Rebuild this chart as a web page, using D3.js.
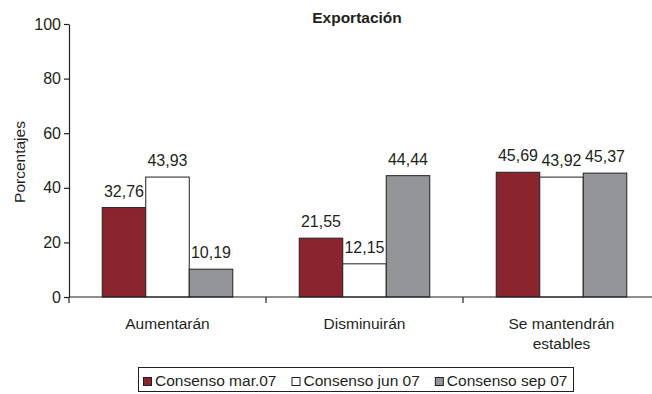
<!DOCTYPE html>
<html>
<head>
<meta charset="utf-8">
<script src="https://cdn.jsdelivr.net/npm/d3@7"></script>
<style>
  html, body { margin: 0; padding: 0; background: #fff; }
  svg { display: block; font-family: "Liberation Sans", Arial, sans-serif; }
</style>
</head>
<body>
<svg id="chart" width="652" height="394"></svg>
<script>
// Data
const categories = [["Aumentarán"], ["Disminuirán"], ["Se mantendrán", "estables"]];
const seriesNames = ["Consenso mar.07", "Consenso jun 07", "Consenso sep 07"];
const marValues = [32.76, 21.55, 45.69];
const junValues = [43.93, 12.15, 43.92];
const sepValues = [10.19, 44.44, 45.37];
const yTicks = [0, 20, 40, 60, 80, 100];
const seriesColors = ["#8a2530", "#ffffff", "#939598"];

const seriesValues = [marValues, junValues, sepValues];
const catKeys = categories.map(c => c.join(" "));
const ink = "#231f20";

const svg = d3.select("#chart");

const x0 = d3.scaleBand().domain(catKeys).range([69, 660]).padding(0);
const x1 = d3.scaleBand().domain(seriesNames).range([0, x0.bandwidth()])
  .paddingInner(0).paddingOuter(0.764);
const y = d3.scaleLinear().domain([0, 100]).range([297, 24]);

// Bars
catKeys.forEach((cat, ci) => {
  const g = svg.append("g").attr("transform", `translate(${x0(cat)},0)`);
  seriesNames.forEach((s, si) => {
    const v = seriesValues[si][ci];
    g.append("rect")
      .attr("x", x1(s))
      .attr("y", y(v))
      .attr("width", x1.bandwidth())
      .attr("height", y(0) - y(v))
      .attr("fill", seriesColors[si])
      .attr("stroke", ink)
      .attr("stroke-width", 1);
    g.append("text")
      .attr("x", x1(s) + x1.bandwidth() / 2)
      .attr("y", y(v) - 11)
      .attr("text-anchor", "middle")
      .attr("font-size", 16)
      .attr("fill", ink)
      .text(d3.format(".2f")(v).replace(".", ","));
  });
});

// Y axis
const yAxis = d3.axisLeft(y).tickValues(yTicks).tickSize(5).tickSizeOuter(0).tickPadding(3);
const yg = svg.append("g").attr("transform", "translate(69,0)").call(yAxis);
yg.selectAll("text").attr("font-size", 16).attr("fill", ink).attr("font-family", "Liberation Sans, Arial, sans-serif");
yg.selectAll("line, path").attr("stroke", ink).attr("stroke-width", 1.2);

// X axis baseline and category dividers
svg.append("line")
  .attr("x1", 69).attr("x2", 660)
  .attr("y1", y(0)).attr("y2", y(0))
  .attr("stroke", ink).attr("stroke-width", 1.2);
catKeys.forEach(cat => {
  svg.append("line")
    .attr("x1", x0(cat)).attr("x2", x0(cat))
    .attr("y1", y(0)).attr("y2", y(0) + 6)
    .attr("stroke", ink).attr("stroke-width", 1.2);
});

// Category labels
categories.forEach((lines, ci) => {
  const cx = x0(catKeys[ci]) + x0.bandwidth() / 2;
  const t = svg.append("text")
    .attr("x", cx)
    .attr("y", 329)
    .attr("text-anchor", "middle")
    .attr("font-size", 15.5)
    .attr("fill", ink);
  lines.forEach((ln, li) => {
    t.append("tspan")
      .attr("x", cx)
      .attr("dy", li === 0 ? 0 : 20)
      .text(ln);
  });
});

// Y axis title
svg.append("text")
  .attr("transform", "translate(25,162) rotate(-90)")
  .attr("text-anchor", "middle")
  .attr("font-size", 15.5)
  .attr("fill", ink)
  .text("Porcentajes");

// Title
svg.append("text")
  .attr("x", 357).attr("y", 23)
  .attr("text-anchor", "middle")
  .attr("font-size", 15.5)
  .attr("font-weight", "bold")
  .attr("fill", ink)
  .text("Exportación");

// Legend
const legend = svg.append("g");
legend.append("rect")
  .attr("x", 138.5).attr("y", 367.5)
  .attr("width", 435).attr("height", 24)
  .attr("fill", "#fff").attr("stroke", ink).attr("stroke-width", 1);
let lx = 143;
seriesNames.forEach((s, si) => {
  legend.append("rect")
    .attr("x", lx + 0.5).attr("y", 377.5)
    .attr("width", 8).attr("height", 8)
    .attr("fill", seriesColors[si]).attr("stroke", ink).attr("stroke-width", 1);
  const t = legend.append("text")
    .attr("x", lx + 12).attr("y", 386)
    .attr("font-size", 15.5)
    .attr("fill", ink)
    .text(s);
  lx += 12 + t.node().getComputedTextLength() + 15;
});
</script>
</body>
</html>
